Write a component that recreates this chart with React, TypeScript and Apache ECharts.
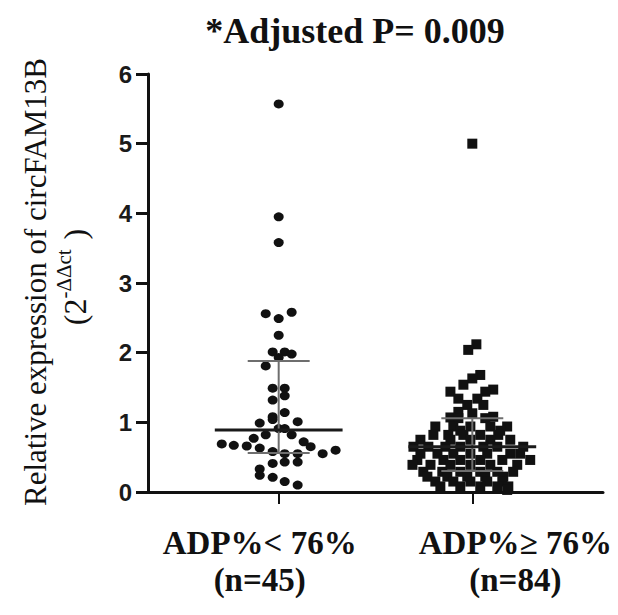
import React, { useEffect, useRef } from "react";
import * as echarts from "echarts";

const titleText = "*Adjusted P= 0.009";
const yAxisTitle = "Relative expression of circFAM13B";
const yAxisUnitBase = "(2";
const yAxisUnitSup = "-ΔΔct";
const yAxisUnitClose = ")";
const categories = ["ADP%< 76%", "ADP%≥ 76%"];
const groupSizes = ["(n=45)", "(n=84)"];
const categoryPositions = [1, 2];
const yMin = 0;
const yMax = 6;
const yStep = 1;

// ADP% < 76% (circles)
const lowValues = [
  5.57, 3.95, 3.58, 2.56, 2.49, 2.58, 2.25, 2.01, 2.01, 1.98, 1.93, 1.81, 1.49, 1.49, 1.38,
  1.32, 1.14, 1.08, 1.04, 0.99, 1.01, 0.91, 0.91, 0.82, 0.82, 0.77, 0.72, 0.69, 0.67, 0.66,
  0.63, 0.65, 0.6, 0.55, 0.58, 0.55, 0.55, 0.43, 0.43, 0.41, 0.33, 0.24, 0.21, 0.15, 0.1,
];
// horizontal scatter of each dot, as a fraction of the category spacing
const lowJitter = [
  0, 0, 0, -0.067, 0, 0.067, 0, -0.031, 0.031, 0.067, 0, -0.067, -0.031, 0.031, 0.031,
  -0.031, 0.031, -0.031, -0.031, -0.098, 0.098, 0, 0.031, -0.067, 0.067, -0.129, 0.129, -0.294, -0.232, -0.165,
  -0.098, 0.165, 0.294, 0.227, -0.031, 0.031, 0.098, 0.031, 0.098, -0.031, -0.098, -0.098, -0.031, 0.031, 0.098,
];

// ADP% >= 76% (squares)
const highValues = [
  5.0, 2.12, 2.04, 1.68, 1.63, 1.54, 1.47, 1.44, 1.44, 1.34, 1.34, 1.25, 1.25, 1.15, 1.13, 1.08, 1.07, 1.06, 1.06,
  0.94, 0.94, 0.94, 0.94, 0.94,
  0.88, 0.88,
  0.82, 0.82, 0.82, 0.82, 0.82,
  0.75, 0.75, 0.75, 0.75, 0.75,
  0.65, 0.65, 0.65, 0.65, 0.65, 0.65, 0.65,
  0.55, 0.55, 0.55, 0.55, 0.55, 0.55, 0.55,
  0.46, 0.46, 0.46, 0.46, 0.46, 0.46,
  0.39, 0.39, 0.39, 0.39, 0.39, 0.39,
  0.29, 0.29, 0.29, 0.29, 0.29, 0.29,
  0.22, 0.22, 0.22, 0.22, 0.22,
  0.15, 0.15, 0.15, 0.15, 0.15,
  0.08, 0.08, 0.08, 0.08, 0.08,
  0.03,
];
const highJitter = [
  0, 0.021, -0.021, 0.041, 0, -0.046, 0.108, -0.113, 0.067, -0.072, 0.026, -0.026, 0.057, -0.072, 0, 0.108, -0.113, -0.072, 0.067,
  -0.191, -0.098, -0.01, 0.093, 0.18,
  -0.062, 0.144,
  -0.201, -0.124, -0.046, 0.041, 0.134,
  -0.268, -0.113, -0.01, 0.093, 0.196,
  -0.304, -0.227, -0.139, -0.062, 0.057, 0.129, 0.263,
  -0.268, -0.18, -0.098, -0.01, 0.077, 0.196, 0.247,
  -0.284, -0.149, -0.062, 0.041, 0.155, 0.299,
  -0.309, -0.216, -0.113, -0.01, 0.093, 0.232,
  -0.253, -0.155, -0.062, 0.041, 0.129, 0.211,
  -0.232, -0.129, -0.026, 0.067, 0.16,
  -0.191, -0.098, -0.01, 0.077, 0.155,
  -0.165, -0.062, 0.041, 0.129, 0.186,
  0.18,
];

const medians = [0.89, 0.65];
const q1Values = [0.56, 0.3];
const q3Values = [1.88, 1.06];

const SERIF = "'Liberation Serif', 'Times New Roman', serif";
const SANS = "'Liberation Sans', Arial, sans-serif";

export default function App() {
  const ref = useRef<HTMLDivElement>(null);

  useEffect(() => {
    if (!ref.current) return;
    const chart = echarts.init(ref.current, undefined, { renderer: "svg" });

    const lowData = lowValues.map((v, i) => [categoryPositions[0] + lowJitter[i], v]);
    const highData = highValues.map((v, i) => [categoryPositions[1] + highJitter[i], v]);
    const barData = categoryPositions.map((p, i) => [p, medians[i], q1Values[i], q3Values[i]]);

    chart.setOption({
      animation: false,
      backgroundColor: "#ffffff",
      grid: { left: 148, right: 15, top: 74, bottom: 123, containLabel: false },
      xAxis: {
        type: "value",
        min: 0.325,
        max: 2.675,
        splitLine: { show: false },
        axisLine: { show: true, lineStyle: { color: "#111", width: 3 } },
        axisTick: {
          show: true,
          customValues: categoryPositions,
          length: 12,
          lineStyle: { color: "#111", width: 2 },
        },
        axisLabel: { show: false },
      },
      yAxis: {
        type: "value",
        min: yMin,
        max: yMax,
        interval: yStep,
        splitLine: { show: false },
        axisLine: { show: true, lineStyle: { color: "#111", width: 3 } },
        axisTick: { show: true, length: 12, lineStyle: { color: "#111", width: 3 } },
        axisLabel: {
          margin: 16,
          fontSize: 24,
          fontWeight: "bold",
          fontFamily: SANS,
          color: "#1a1a1a",
        },
      },
      graphic: [
        {
          id: "title",
          type: "text",
          x: 355,
          y: 31,
          style: {
            text: titleText,
            fontSize: 36,
            fontWeight: "bold",
            fontFamily: SERIF,
            fill: "#111",
            textAlign: "center",
            textVerticalAlign: "middle",
          },
        },
        {
          id: "ytitle",
          type: "text",
          x: 35,
          y: 282,
          rotation: Math.PI / 2,
          style: {
            text: yAxisTitle,
            fontSize: 31,
            fontFamily: SERIF,
            fill: "#111",
            textAlign: "center",
            textVerticalAlign: "middle",
          },
        },
        {
          id: "yunit",
          type: "text",
          x: 72,
          y: 277,
          rotation: Math.PI / 2,
          style: {
            text: `{a|${yAxisUnitBase}}{b|${yAxisUnitSup}}{a|${yAxisUnitClose}}`,
            textAlign: "center",
            textVerticalAlign: "middle",
            rich: {
              a: { fontSize: 32, fontFamily: SERIF, fill: "#111", verticalAlign: "bottom" },
              b: {
                fontSize: 21,
                fontFamily: SERIF,
                fill: "#111",
                verticalAlign: "bottom",
                padding: [0, 10, 16, 0],
              },
            },
          },
        },
      ],
      series: [
        {
          type: "scatter",
          data: lowData,
          symbol: "circle",
          symbolSize: [10, 9],
          itemStyle: { color: "#111", opacity: 1 },
          z: 2,
        },
        {
          type: "scatter",
          data: highData,
          symbol: "rect",
          symbolSize: 10,
          itemStyle: { color: "#111", opacity: 1 },
          z: 2,
        },
        {
          type: "custom",
          data: barData,
          encode: { x: 0, y: [1, 2, 3] },
          z: 3,
          renderItem: (params: any, api: any) => {
            const x = api.value(0);
            const m = api.value(1);
            const lo = api.value(2);
            const hi = api.value(3);
            const mL = api.coord([x - 0.33, m]);
            const mR = api.coord([x + 0.33, m]);
            const top = api.coord([x, hi]);
            const bot = api.coord([x, lo]);
            const cTL = api.coord([x - 0.16, hi]);
            const cTR = api.coord([x + 0.16, hi]);
            const cBL = api.coord([x - 0.16, lo]);
            const cBR = api.coord([x + 0.16, lo]);
            const whisker = { stroke: "#6e6e6e", lineWidth: 2 };
            return {
              type: "group",
              children: [
                { type: "line", shape: { x1: top[0], y1: top[1], x2: bot[0], y2: bot[1] }, style: whisker },
                { type: "line", shape: { x1: cTL[0], y1: cTL[1], x2: cTR[0], y2: cTR[1] }, style: whisker },
                { type: "line", shape: { x1: cBL[0], y1: cBL[1], x2: cBR[0], y2: cBR[1] }, style: whisker },
                {
                  type: "line",
                  shape: { x1: mL[0], y1: mL[1], x2: mR[0], y2: mR[1] },
                  style: { stroke: "#1a1a1a", lineWidth: 3 },
                },
              ],
            };
          },
        },
      ],
    });

    // Category labels placed relative to each category's position on the x axis
    const labelShift = [-19, 43];
    const axisY = chart.convertToPixel({ yAxisIndex: 0 }, yMin) as number;
    const catLabels: any[] = [];
    categoryPositions.forEach((p, i) => {
      const px = (chart.convertToPixel({ xAxisIndex: 0 }, p) as number) + labelShift[i];
      catLabels.push({
        id: `cat${i}`,
        type: "text",
        x: px,
        y: axisY + 51,
        style: {
          text: categories[i],
          fontSize: 33,
          fontWeight: "bold",
          fontFamily: SERIF,
          fill: "#111",
          textAlign: "center",
          textVerticalAlign: "middle",
        },
      });
      catLabels.push({
        id: `n${i}`,
        type: "text",
        x: px,
        y: axisY + 88,
        style: {
          text: groupSizes[i],
          fontSize: 33,
          fontWeight: "bold",
          fontFamily: SERIF,
          fill: "#111",
          textAlign: "center",
          textVerticalAlign: "middle",
        },
      });
    });
    chart.setOption({ graphic: catLabels });

    return () => chart.dispose();
  }, []);

  return (
    <div
      ref={ref}
      style={{ position: "absolute", left: 0, top: 0, width: 618, height: 615, background: "#fff" }}
    />
  );
}
